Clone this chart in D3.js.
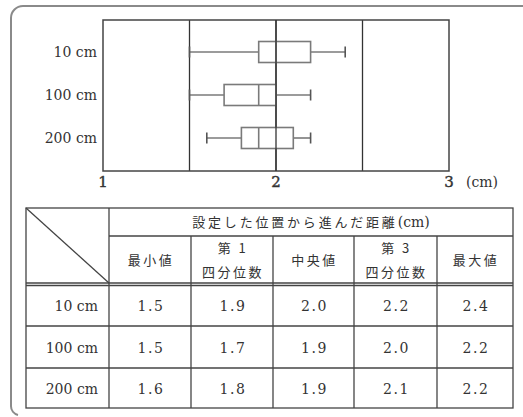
<!DOCTYPE html>
<html>
<head>
<meta charset="utf-8">
<script src="https://cdn.jsdelivr.net/npm/d3@7"></script>
<style>
  body { margin: 0; background: #fff; }
  text { fill: #333; }
  .num { font-family: "DejaVu Serif", "Liberation Serif", serif; }
  .jp { font-family: "Noto Sans CJK JP", sans-serif; }
</style>
</head>
<body>
<script>
// data
var categories = ["10 cm", "100 cm", "200 cm"];
var mins    = [1.5, 1.5, 1.6];
var q1s     = [1.9, 1.7, 1.8];
var medians = [2.0, 1.9, 1.9];
var q3s     = [2.2, 2.0, 2.1];
var maxs    = [2.4, 2.2, 2.2];

var xTicks = [1, 2, 3];
var gridVals = [1.5, 2, 2.5];

var tableTitle = "設定した位置から進んだ距離";
var tableUnit = "(cm)";
var colHeads = [["最小値"], ["第 1", "四分位数"], ["中央値"], ["第 3", "四分位数"], ["最大値"]];

var W = 523, H = 417;

var svg = d3.select("body").append("svg")
    .attr("width", W)
    .attr("height", H);

// outer rounded frame (cut off on the right and bottom)
svg.append("path")
    .attr("d", "M523,6 H23 A12,12 0 0 0 11,18 V406 A9,9 0 0 0 18,415")
    .attr("fill", "none")
    .attr("stroke", "#8a8a8a")
    .attr("stroke-width", 2);

// ---- box plot ----
var plot = {left: 103, right: 449, top: 20, bottom: 171};

var x = d3.scaleLinear().domain([1, 3]).range([plot.left, plot.right]);
var y = d3.scalePoint().domain(categories).range([52, 138]);

var boxH = 21, capH = 11;

// grid lines
svg.selectAll("line.grid")
  .data(gridVals)
  .enter().append("line")
    .attr("class", "grid")
    .attr("x1", function(d) { return x(d); })
    .attr("x2", function(d) { return x(d); })
    .attr("y1", plot.top)
    .attr("y2", plot.bottom)
    .attr("stroke", "#333")
    .attr("stroke-width", 1.3);

svg.append("rect")
    .attr("x", plot.left)
    .attr("y", plot.top)
    .attr("width", plot.right - plot.left)
    .attr("height", plot.bottom - plot.top)
    .attr("fill", "none")
    .attr("stroke", "#444")
    .attr("stroke-width", 1.5);

var rows = categories.map(function(c, i) {
  return {cat: c, min: mins[i], q1: q1s[i], med: medians[i], q3: q3s[i], max: maxs[i]};
});

var g = svg.selectAll("g.box")
  .data(rows)
  .enter().append("g")
    .attr("class", "box")
    .attr("stroke", "#7a7a7a")
    .attr("stroke-width", 1.6)
    .attr("fill", "none");

// whiskers
g.append("line")
    .attr("x1", function(d) { return x(d.min); })
    .attr("x2", function(d) { return x(d.q1); })
    .attr("y1", function(d) { return y(d.cat); })
    .attr("y2", function(d) { return y(d.cat); });
g.append("line")
    .attr("x1", function(d) { return x(d.q3); })
    .attr("x2", function(d) { return x(d.max); })
    .attr("y1", function(d) { return y(d.cat); })
    .attr("y2", function(d) { return y(d.cat); });
// caps
g.append("line")
    .attr("x1", function(d) { return x(d.min); })
    .attr("x2", function(d) { return x(d.min); })
    .attr("y1", function(d) { return y(d.cat) - capH / 2; })
    .attr("y2", function(d) { return y(d.cat) + capH / 2; })
    .attr("stroke", "#555");
g.append("line")
    .attr("x1", function(d) { return x(d.max); })
    .attr("x2", function(d) { return x(d.max); })
    .attr("y1", function(d) { return y(d.cat) - capH / 2; })
    .attr("y2", function(d) { return y(d.cat) + capH / 2; })
    .attr("stroke", "#555");
// box
g.append("rect")
    .attr("x", function(d) { return x(d.q1); })
    .attr("y", function(d) { return y(d.cat) - boxH / 2; })
    .attr("width", function(d) { return x(d.q3) - x(d.q1); })
    .attr("height", boxH)
    .attr("fill", "#fff");
// median
g.append("line")
    .attr("x1", function(d) { return x(d.med); })
    .attr("x2", function(d) { return x(d.med); })
    .attr("y1", function(d) { return y(d.cat) - boxH / 2; })
    .attr("y2", function(d) { return y(d.cat) + boxH / 2; });

// the x=2 line shows through the boxes, as in the reference
svg.append("line")
    .attr("x1", x(2)).attr("x2", x(2))
    .attr("y1", plot.top).attr("y2", plot.bottom)
    .attr("stroke", "#333")
    .attr("stroke-width", 1.3);

// category labels
svg.selectAll("text.cat")
  .data(categories)
  .enter().append("text")
    .attr("class", "cat num")
    .attr("x", 97)
    .attr("y", function(d) { return y(d) + 5; })
    .attr("text-anchor", "end")
    .attr("font-size", 14)
    .text(function(d) { return d; });

// x tick labels
svg.selectAll("text.tick")
  .data(xTicks)
  .enter().append("text")
    .attr("class", "tick num")
    .attr("x", function(d) { return x(d); })
    .attr("y", 187)
    .attr("text-anchor", "middle")
    .attr("font-size", 15)
    .attr("stroke", "#333")
    .attr("stroke-width", 0.4)
    .text(function(d) { return d; });

svg.append("text")
    .attr("class", "num")
    .attr("x", 466)
    .attr("y", 187)
    .attr("font-size", 14)
    .text("(cm)");

// ---- table ----
var tbl = {left: 26, right: 513, top: 208, h1: 236, h2: 283, bottom: 408};
var colX = [tbl.left, 109, 191, 273, 354, 437, tbl.right];
var rowY = [tbl.h2, 326, 368, tbl.bottom];

var lineStyle = function(sel) {
  return sel.attr("stroke", "#444").attr("stroke-width", 1.3);
};

// outer frame
lineStyle(svg.append("rect")
    .attr("x", tbl.left).attr("y", tbl.top)
    .attr("width", tbl.right - tbl.left)
    .attr("height", tbl.bottom - tbl.top)
    .attr("fill", "none"));

// diagonal
lineStyle(svg.append("line")
    .attr("x1", tbl.left).attr("y1", tbl.top)
    .attr("x2", colX[1]).attr("y2", tbl.h2));

// header sub line
lineStyle(svg.append("line")
    .attr("x1", colX[1]).attr("x2", tbl.right)
    .attr("y1", tbl.h1).attr("y2", tbl.h1));

// double line under header
[tbl.h2, tbl.h2 + 2.5].forEach(function(yy) {
  lineStyle(svg.append("line")
      .attr("x1", tbl.left).attr("x2", tbl.right)
      .attr("y1", yy).attr("y2", yy));
});

// row lines
rowY.slice(1, 3).forEach(function(yy) {
  lineStyle(svg.append("line")
      .attr("x1", tbl.left).attr("x2", tbl.right)
      .attr("y1", yy).attr("y2", yy));
});

// column lines
colX.slice(1, 6).forEach(function(xx, i) {
  lineStyle(svg.append("line")
      .attr("x1", xx).attr("x2", xx)
      .attr("y1", i === 0 ? tbl.top : tbl.h1)
      .attr("y2", tbl.bottom));
});

// title
var title = svg.append("text")
    .attr("x", (colX[1] + tbl.right) / 2)
    .attr("y", 227)
    .attr("text-anchor", "middle")
    .attr("font-size", 13);
title.append("tspan")
    .attr("class", "jp")
    .attr("letter-spacing", 2.8)
    .text(tableTitle);
title.append("tspan")
    .attr("class", "num")
    .attr("font-size", 14)
    .text(tableUnit);

// column heads
colHeads.forEach(function(lines, i) {
  var cx = (colX[i + 1] + colX[i + 2]) / 2;
  var t = svg.append("text")
      .attr("class", "jp")
      .attr("text-anchor", "middle")
      .attr("font-size", 13)
      .attr("letter-spacing", 2.5);
  if (lines.length === 1) {
    t.append("tspan").attr("x", cx + 1).attr("y", 265).text(lines[0]);
  } else {
    t.append("tspan").attr("x", cx + 1).attr("y", 253).text(lines[0]);
    t.append("tspan").attr("x", cx + 1).attr("y", 277).text(lines[1]);
  }
});

// body rows
var fmt = d3.format(".1f");
rows.forEach(function(d, i) {
  var cy = (rowY[i] + rowY[i + 1]) / 2 + 6;
  svg.append("text")
      .attr("class", "num")
      .attr("x", 98)
      .attr("y", cy)
      .attr("text-anchor", "end")
      .attr("font-size", 14)
      .text(d.cat);
  [d.min, d.q1, d.med, d.q3, d.max].forEach(function(v, j) {
    svg.append("text")
        .attr("class", "num")
        .attr("x", (colX[j + 1] + colX[j + 2]) / 2 + 1)
        .attr("y", cy)
        .attr("text-anchor", "middle")
        .attr("font-size", 14)
        .attr("letter-spacing", 1.5)
        .text(fmt(v));
  });
});
</script>
</body>
</html>
